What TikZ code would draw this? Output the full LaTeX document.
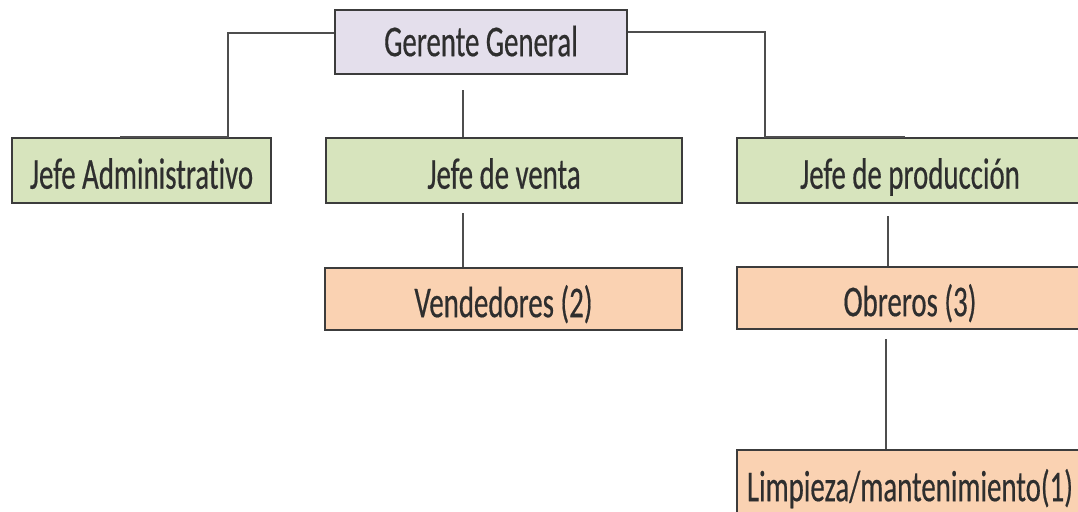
\documentclass[tikz,border=0pt]{standalone}
\usepackage{fontspec}
\setmainfont{Carlito}[FakeStretch=0.655, FakeBold=0.4, Ligatures=NoCommon]
\usetikzlibrary{calc}
\definecolor{lavfill}{HTML}{E4DFEC}
\definecolor{greenfill}{HTML}{D7E4BD}
\definecolor{orangefill}{HTML}{FAD2B2}
\definecolor{borderc}{HTML}{3C3C3C}
\definecolor{connc}{HTML}{4E4E4E}
\definecolor{textc}{HTML}{2E2E2E}
\tikzset{
  orgbox/.style={draw=borderc, line width=1.2pt, inner sep=0pt, text=textc,
    font=\fontsize{22pt}{26pt}\selectfont, text height=18.2pt, text depth=0pt},
  topbox/.style={orgbox, fill=lavfill, text height=14.2pt},
  greenbox/.style={orgbox, fill=greenfill},
  orangebox/.style={orgbox, fill=orangefill},
  conn/.style={draw=connc, line width=1pt}
}
\begin{document}
\begin{tikzpicture}[x=0.5pt,y=-0.5pt]
\clip (0,0) rectangle (1078,512);
\fill[white] (0,0) rectangle (1078,512);
% boxes
\node[topbox, minimum width=146pt, minimum height=32pt] (gg) at (481,42) {Gerente General};
\node[greenbox, minimum width=129.5pt, minimum height=32.5pt] (adm) at (141.5,170.5) {Jefe Administrativo};
\node[greenbox, minimum width=178pt, minimum height=32.5pt] (ven) at (504,170.5) {Jefe de venta};
\node[greenbox, minimum width=173pt, minimum height=32.5pt] (pro) at (910,170.5) {Jefe de producción};
\node[orangebox, minimum width=178.5pt, minimum height=31pt] (vdd) at (503.5,299) {Vendedores (2)};
\node[orangebox, minimum width=173pt, minimum height=31pt] (obr) at (910,298) {Obreros (3)};
\node[orangebox, minimum width=173pt, minimum height=32pt, text height=19.2pt] (lim) at (910,482) {Limpieza/mantenimiento(1)};
% connectors
\draw[conn] (gg.west |- 0,33) -| (228,0 |- adm.north) -- (120,0 |- adm.north);
\draw[conn] (gg.east |- 0,32) -| (765,0 |- pro.north) -- (905,0 |- pro.north);
\draw[conn, shorten <=7.5pt] (463,0 |- gg.south) -- (463,0 |- ven.north);
\draw[conn, shorten <=4.5pt] (463,0 |- ven.south) -- (463,0 |- vdd.north);
\draw[conn, shorten <=6pt] (888,0 |- pro.south) -- (888,0 |- obr.north);
\draw[conn, shorten <=4.5pt] (886,0 |- obr.south) -- (886,0 |- lim.north);
\end{tikzpicture}
\end{document}
